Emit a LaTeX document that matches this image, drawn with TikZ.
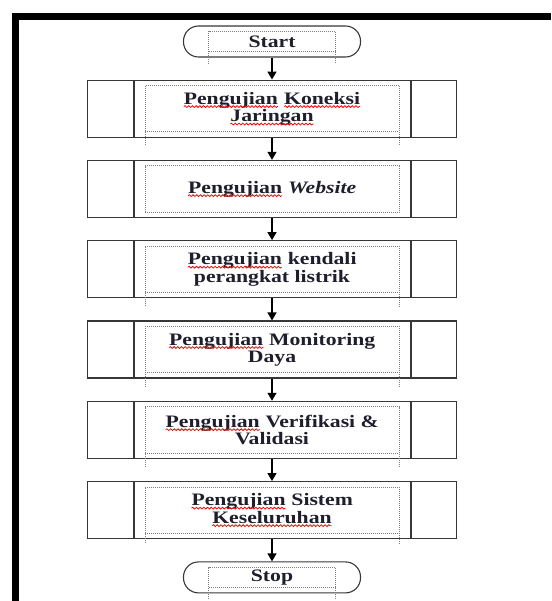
\documentclass[tikz,border=0pt]{standalone}
\usepackage{fontspec}
\setmainfont{Liberation Serif}
\usepackage{xcolor}
\usepackage{graphicx}
\usepackage{tikz}
\usetikzlibrary{calc,positioning}
\usetikzlibrary{arrows.meta,decorations.pathmorphing}
\definecolor{ink}{RGB}{30,30,45}
\definecolor{rim}{RGB}{55,55,55}
\tikzstyle{term} = [draw=rim, line width=1.1pt, rounded corners=15pt,
	minimum width=177pt, minimum height=31pt, inner sep=0pt]
\tikzstyle{proc} = [draw=rim, line width=1.3pt, minimum width=369pt,
	minimum height=57pt, inner sep=0pt, align=center]
\tikzstyle{procline} = [draw=rim, line width=2pt]
\tikzstyle{txtline} = [gray, densely dotted, line width=1pt]
\tikzstyle{flow} = [-{Triangle[length=8pt,width=9pt]}, line width=1.4pt, black]
\tikzstyle{wavy} = [red, line width=0.7pt, decorate,
	decoration={snake, amplitude=0.9pt, segment length=3pt}]
\newcommand{\sperr}[1]{\tikz[baseline=(w.base)]{\node[inner sep=0pt, outer sep=0pt,
	draw=none, minimum width=0pt, minimum height=0pt] (w) {#1};
	\draw[wavy] ([yshift=-2.5pt]w.base west) -- ([yshift=-2.5pt]w.base east);}}
\newcommand{\wline}[1]{\scalebox{1.24}[1]{#1}}
\newcommand{\txtframe}[3]{%
	\draw[txtline] ($(#1.south)+(-#2,#3)$) -- ($(#1.north)+(-#2,-6)$)
		-- ($(#1.north)+(#2,-6)$) -- ($(#1.south)+(#2,#3)$);
	\draw[txtline] ($(#1.south)+(-#2,6)$) -- ($(#1.south)+(#2,6)$);}

\begin{document}
\begin{tikzpicture}[x=1pt,y=1pt,node distance=22pt,
	font=\fontsize{17.5}{17.5}\selectfont\bfseries,text=ink]
   \useasboundingbox (0,0) rectangle (551,-601);
   \draw[line width=7pt] (15.5,-601) |- (551,-16.5);

   \node (start) [term] at (272,-41.5) {\wline{Start}};
   \node (b1) [proc, below=of start] {\wline{\sperr{Pengujian} \sperr{Koneksi}}\\\wline{\sperr{Jaringan}}};
   \node (b2) [proc, below=of b1] {\wline{\sperr{Pengujian} \textit{Website}}};
   \node (b3) [proc, below=of b2] {\wline{\sperr{Pengujian} kendali}\\\wline{perangkat listrik}};
   \node (b4) [proc, below=of b3] {\wline{\sperr{Pengujian} Monitoring}\\\wline{Daya}};
   \node (b5) [proc, below=of b4] {\wline{\sperr{Pengujian} Verifikasi \&}\\\wline{Validasi}};
   \node (b6) [proc, below=of b5] {\wline{\sperr{Pengujian} Sistem}\\\wline{\sperr{Keseluruhan}}};
   \node (stop) [term, below=of b6] {\wline{Stop}};

   \foreach \n in {b1,b2,b3,b4,b5,b6} {
      \draw[procline] ([xshift=47pt]\n.north west) -- ([xshift=47pt]\n.south west);
      \draw[procline] ([xshift=-46pt]\n.north east) -- ([xshift=-46pt]\n.south east);
   }
   \foreach \n/\e in {b1/-7,b2/6,b3/-8,b4/-8,b5/-8,b6/-4} {\txtframe{\n}{127}{\e}}
   \txtframe{start}{63.5}{-6}
   \txtframe{stop}{63.5}{-6}

   \foreach \a/\b in {start/b1,b1/b2,b2/b3,b3/b4,b4/b5,b5/b6,b6/stop}
      \draw[flow] (\a) -- (\b);
\end{tikzpicture}
\end{document}
